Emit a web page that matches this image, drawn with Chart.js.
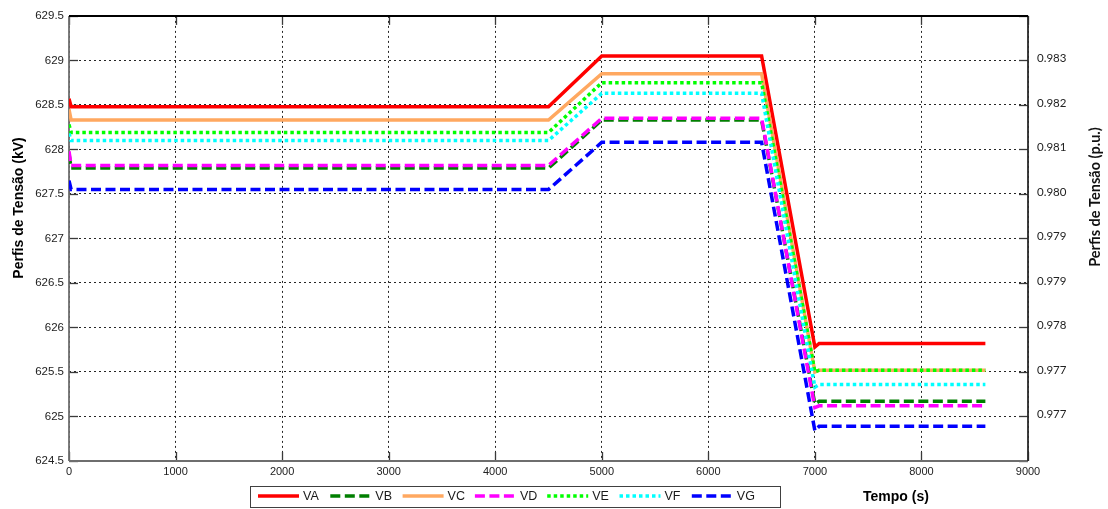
<!DOCTYPE html>
<html>
<head>
<meta charset="utf-8">
<script src="https://cdn.jsdelivr.net/npm/chart.js@4/dist/chart.umd.min.js"></script>
<style>
  html, body { margin: 0; padding: 0; background: #ffffff; }
  #wrap { width: 1108px; height: 509px; }
</style>
</head>
<body>
<div id="wrap"><canvas id="c" width="1108" height="509"></canvas></div>
<script>
// Time instants (s) shared by all voltage profiles
const tempo = [0, 20, 4500, 5000, 6500, 7000, 7040, 8600];

// Bus voltage profiles (kV)
const VA = [628.57, 628.48, 628.48, 629.05, 629.05, 625.78, 625.82, 625.82];
const VB = [627.95, 627.79, 627.79, 628.33, 628.33, 625.14, 625.17, 625.17];
const VC = [628.45, 628.33, 628.33, 628.85, 628.85, 625.50, 625.52, 625.52];
const VD = [627.98, 627.82, 627.82, 628.35, 628.35, 625.10, 625.12, 625.12];
const VE = [628.28, 628.19, 628.19, 628.75, 628.75, 625.50, 625.52, 625.52];
const VF = [628.18, 628.10, 628.10, 628.63, 628.63, 625.33, 625.36, 625.36];
const VG = [627.65, 627.55, 627.55, 628.08, 628.08, 624.84, 624.89, 624.89];

// Axis ticks
const xTicks = [0, 1000, 2000, 3000, 4000, 5000, 6000, 7000, 8000, 9000];
const kvTicks = [629.5, 629, 628.5, 628, 627.5, 627, 626.5, 626, 625.5, 625, 624.5];
// Per-unit labels shown on the right axis, at the kV gridlines listed beside them
const puTickKV = [629, 628.5, 628, 627.5, 627, 626.5, 626, 625.5, 625];
const puTickLabels = ['0.983', '0.982', '0.981', '0.980', '0.979', '0.979', '0.978', '0.977', '0.977'];

const seriesNames = ['VA', 'VB', 'VC', 'VD', 'VE', 'VF', 'VG'];
const seriesValues = [VA, VB, VC, VD, VE, VF, VG];
const seriesStyle = [
  { color: '#ff0000', dash: [] },
  { color: '#007f00', dash: [10, 4.5] },
  { color: '#ffa860', dash: [] },
  { color: '#ff00ff', dash: [10, 4.5] },
  { color: '#00ff00', dash: [3.5, 3] },
  { color: '#00ffff', dash: [3.5, 3] },
  { color: '#0000ff', dash: [10, 4.5] }
];

const datasets = seriesNames.map((name, i) => ({
  label: name,
  data: tempo.map((t, k) => ({ x: t, y: seriesValues[i][k] })),
  borderColor: seriesStyle[i].color,
  backgroundColor: seriesStyle[i].color,
  borderDash: seriesStyle[i].dash,
  borderWidth: 3.5,
  borderCapStyle: 'butt',
  borderJoinStyle: 'miter',
  pointRadius: 0,
  tension: 0,
  fill: false,
  yAxisID: 'y',
  order: seriesNames.length - i
}));

const AXIS_FONT = 'Liberation Sans, Arial, sans-serif';

function seg(ctx, x1, y1, x2, y2) {
  ctx.beginPath(); ctx.moveTo(x1, y1); ctx.lineTo(x2, y2); ctx.stroke();
}

// Plot box and inward tick marks
const framePlugin = {
  id: 'frame',
  beforeDatasetsDraw(chart) {
    const { ctx, chartArea: a, scales } = chart;
    ctx.save();
    ctx.setLineDash([]);
    ctx.strokeStyle = '#3a3a3a';
    ctx.lineWidth = 1.3;
    const L = 9;
    scales.x.ticks.forEach(t => {
      const px = Math.round(scales.x.getPixelForValue(t.value)) + 0.5;
      seg(ctx, px, a.bottom, px, a.bottom - L);
      seg(ctx, px, a.top, px, a.top + L);
    });
    scales.y.ticks.forEach(t => {
      const py = Math.round(scales.y.getPixelForValue(t.value)) + 0.5;
      seg(ctx, a.left, py, a.left + L, py);
      seg(ctx, a.right, py, a.right - L, py);
    });
    // frame
    ctx.lineWidth = 1.8;
    ctx.strokeStyle = '#6e6e6e';
    seg(ctx, a.left, a.top, a.left, a.bottom);
    seg(ctx, a.left, a.bottom, a.right, a.bottom);
    ctx.strokeStyle = '#2a2a2a';
    seg(ctx, a.right, a.top, a.right, a.bottom);
    ctx.strokeStyle = '#000000';
    ctx.lineWidth = 2;
    seg(ctx, a.left, a.top, a.right, a.top);
    ctx.restore();
  }
};

// Axis titles and the legend box
const annotPlugin = {
  id: 'annot',
  afterDraw(chart) {
    const { ctx } = chart;
    ctx.save();
    ctx.fillStyle = '#000000';
    ctx.textAlign = 'center';
    ctx.textBaseline = 'middle';

    ctx.save();
    ctx.translate(19, 208);
    ctx.rotate(-Math.PI / 2);
    ctx.font = 'bold 14px ' + AXIS_FONT;
    ctx.fillText('Perfis de Tensão (kV)', 0, 0);
    ctx.restore();

    ctx.save();
    ctx.translate(1095, 197);
    ctx.rotate(-Math.PI / 2);
    ctx.font = 'bold 14.5px Lato, sans-serif';
    ctx.fillStyle = '#111111';
    ctx.fillText('Perfis de Tensão (p.u.)', 0, 0);
    ctx.restore();

    ctx.font = 'bold 14px ' + AXIS_FONT;
    ctx.fillText('Tempo (s)', 896, 497);

    // legend
    const bx = 250.5, by = 486.5, bw = 530, bh = 21;
    ctx.fillStyle = '#ffffff';
    ctx.fillRect(bx, by, bw, bh);
    ctx.strokeStyle = '#404040';
    ctx.lineWidth = 1;
    ctx.setLineDash([]);
    ctx.strokeRect(bx, by, bw, bh);
    const cy = 496;
    const step = 72.3;
    ctx.font = '12.5px ' + AXIS_FONT;
    ctx.textAlign = 'left';
    chart.data.datasets.forEach((ds, i) => {
      const x0 = 258 + i * step;
      ctx.strokeStyle = ds.borderColor;
      ctx.lineWidth = ds.borderWidth;
      ctx.lineCap = 'butt';
      ctx.setLineDash(ds.borderDash || []);
      seg(ctx, x0, cy, x0 + 41, cy);
      ctx.setLineDash([]);
      ctx.fillStyle = '#1a1a1a';
      ctx.fillText(ds.label, x0 + 45, cy + 0.5);
    });
    ctx.restore();
  }
};

const gridCommon = {
  color: 'rgba(0,0,0,0.85)',
  lineWidth: 1,
  drawTicks: false
};

new Chart(document.getElementById('c'), {
  type: 'line',
  data: { datasets },
  options: {
    responsive: false,
    devicePixelRatio: 1,
    animation: false,
    layout: { padding: { top: 14, left: 0, right: 0, bottom: 0 } },
    plugins: { legend: { display: false }, tooltip: { enabled: false } },
    scales: {
      x: {
        type: 'linear',
        min: xTicks[0],
        max: xTicks[xTicks.length - 1],
        afterBuildTicks: s => { s.ticks = xTicks.map(v => ({ value: v })); },
        ticks: {
          callback: v => String(v),
          font: { family: AXIS_FONT, size: 11 },
          color: '#222222',
          padding: 4,
          maxRotation: 0
        },
        grid: gridCommon,
        border: { display: false, dash: [2, 3] },
        afterFit: s => { s.height = 48; }
      },
      y: {
        type: 'linear',
        position: 'left',
        min: 624.5,
        max: 629.5,
        afterBuildTicks: s => { s.ticks = kvTicks.slice().reverse().map(v => ({ value: v })); },
        ticks: {
          callback: v => String(v),
          font: { family: AXIS_FONT, size: 11.5 },
          color: '#222222',
          padding: 5
        },
        grid: gridCommon,
        border: { display: false, dash: [2, 3] },
        afterFit: s => { s.width = 69; }
      },
      y2: {
        type: 'linear',
        position: 'right',
        min: 624.5,
        max: 629.5,
        afterBuildTicks: s => { s.ticks = puTickKV.slice().reverse().map(v => ({ value: v })); },
        ticks: {
          callback: v => {
            const k = puTickKV.indexOf(v);
            return k >= 0 ? puTickLabels[k] : '';
          },
          font: { family: 'Lato, sans-serif', size: 11.5 },
          color: '#222222',
          padding: 9,
          labelOffset: -2
        },
        grid: { display: false, drawTicks: false },
        border: { display: false },
        afterFit: s => { s.width = 80; }
      }
    }
  },
  plugins: [framePlugin, annotPlugin]
});
</script>
</body>
</html>
